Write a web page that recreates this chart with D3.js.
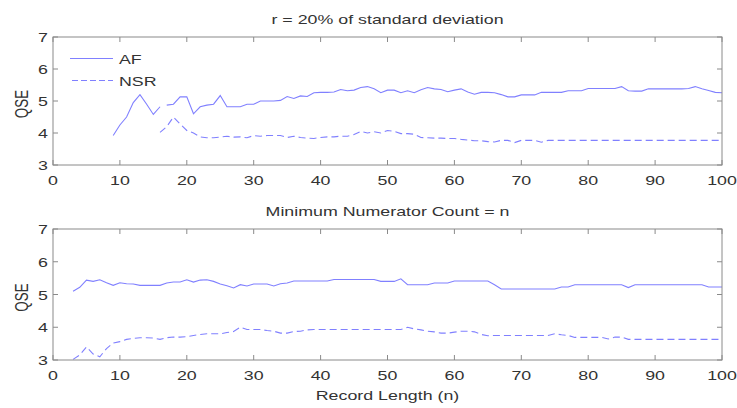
<!DOCTYPE html>
<html>
<head>
<meta charset="utf-8">
<script src="https://cdn.jsdelivr.net/npm/d3@7"></script>
<style>
  body { margin: 0; background: #fff; }
  svg text { font-family: "Liberation Sans", Arial, sans-serif; fill: #333; }
</style>
</head>
<body>
<div id="chart"></div>
<script>
// x ticks / y ticks
const xTicks = [0, 10, 20, 30, 40, 50, 60, 70, 80, 90, 100];
const yTicks = [3, 4, 5, 6, 7];

// top panel: r = 20% of SD
const topAfA = [3.92, 4.25, 4.5, 4.95, 5.2, 4.9, 4.58, 4.82]; // n = 9..16
const topAfB = [ // n = 17..100
  4.87, 4.9, 5.13, 5.13, 4.6, 4.82, 4.87, 4.9, 5.17, 4.82,
  4.82, 4.82, 4.9, 4.9, 5.0, 5.0, 5.0, 5.02, 5.14, 5.08,
  5.16, 5.14, 5.26, 5.27, 5.27, 5.28, 5.36, 5.32, 5.34, 5.42,
  5.45, 5.38, 5.26, 5.34, 5.34, 5.26, 5.32, 5.26, 5.35, 5.42,
  5.38, 5.36, 5.29, 5.34, 5.38, 5.28, 5.21, 5.27, 5.27, 5.26,
  5.2, 5.13, 5.13, 5.19, 5.19, 5.19, 5.27, 5.27, 5.27, 5.27,
  5.32, 5.32, 5.32, 5.39, 5.39, 5.39, 5.39, 5.39, 5.45, 5.32,
  5.31, 5.31, 5.38, 5.38, 5.38, 5.38, 5.38, 5.38, 5.39, 5.45,
  5.38, 5.33, 5.27, 5.26
];
const topNsr = [ // n = 16..100
  4.02, 4.2, 4.5, 4.28, 4.08, 4.0, 3.88, 3.85, 3.85, 3.87,
  3.9, 3.87, 3.88, 3.85, 3.92, 3.9, 3.92, 3.92, 3.92, 3.86,
  3.9, 3.86, 3.84, 3.83, 3.86, 3.88, 3.88, 3.9, 3.9, 3.95,
  4.05, 4.0, 4.04, 4.0, 4.08, 4.05, 3.98, 3.98, 3.96, 3.86,
  3.85, 3.84, 3.84, 3.83, 3.83, 3.8, 3.78, 3.76, 3.76, 3.73,
  3.72, 3.77, 3.77, 3.7, 3.77, 3.77, 3.77, 3.71, 3.77, 3.77,
  3.77, 3.77, 3.77, 3.77, 3.77, 3.77, 3.77, 3.77, 3.77, 3.77,
  3.77, 3.77, 3.77, 3.77, 3.77, 3.77, 3.77, 3.77, 3.77, 3.77,
  3.77, 3.77, 3.77, 3.77, 3.77
];

// bottom panel: minimum numerator count = n
const botAf = [ // n = 3..100
  5.1, 5.22, 5.44, 5.4, 5.45, 5.36, 5.28, 5.36, 5.33, 5.32,
  5.28, 5.28, 5.28, 5.28, 5.35, 5.38, 5.38, 5.45, 5.38, 5.44,
  5.45, 5.4, 5.32, 5.27, 5.2, 5.3, 5.26, 5.32, 5.32, 5.32,
  5.26, 5.33, 5.35, 5.41, 5.41, 5.41, 5.41, 5.41, 5.41, 5.46,
  5.46, 5.46, 5.46, 5.46, 5.46, 5.46, 5.4, 5.4, 5.4, 5.48,
  5.3, 5.3, 5.3, 5.3, 5.35, 5.35, 5.35, 5.41, 5.41, 5.41,
  5.41, 5.41, 5.41, 5.3, 5.17, 5.17, 5.17, 5.17, 5.17, 5.17,
  5.17, 5.17, 5.17, 5.23, 5.23, 5.3, 5.3, 5.3, 5.3, 5.3,
  5.3, 5.3, 5.3, 5.21, 5.3, 5.3, 5.3, 5.3, 5.3, 5.3,
  5.3, 5.3, 5.3, 5.3, 5.3, 5.23, 5.23, 5.23
];
const botNsr = [ // n = 3..100
  3.02, 3.15, 3.4, 3.18, 3.1, 3.35, 3.52, 3.56, 3.63, 3.66,
  3.68, 3.68, 3.67, 3.63, 3.68, 3.7, 3.7, 3.71, 3.75, 3.78,
  3.8, 3.8, 3.8, 3.84, 3.87, 4.0, 3.93, 3.93, 3.93, 3.9,
  3.88, 3.82, 3.82, 3.87, 3.88, 3.92, 3.93, 3.93, 3.93, 3.93,
  3.93, 3.93, 3.93, 3.93, 3.93, 3.93, 3.93, 3.93, 3.93, 3.93,
  4.0, 3.95, 3.92, 3.88, 3.86, 3.82, 3.82, 3.85, 3.88, 3.88,
  3.86, 3.78, 3.74, 3.75, 3.75, 3.75, 3.75, 3.75, 3.75, 3.75,
  3.75, 3.75, 3.8, 3.77, 3.75, 3.69, 3.69, 3.69, 3.69, 3.69,
  3.64, 3.7, 3.7, 3.63, 3.63, 3.63, 3.63, 3.63, 3.63, 3.63,
  3.63, 3.63, 3.63, 3.63, 3.63, 3.63, 3.63, 3.63
];

const legendNames = ["AF", "NSR"];

const W = 737, H = 408;
const left = 53, right = 722;
const lineColor = "#8080ff";
const fs = 13.4, sx = 1.33;   // picture is stretched sideways

const svg = d3.select("#chart").append("svg")
  .attr("width", W).attr("height", H);

function toPts(arr, n0) {
  return arr.map((v, i) => ({ n: n0 + i, v: v }));
}

// text helper: stretched like the picture
function label(parent, x, y, str, anchor, rot) {
  const g = parent.append("g")
    .attr("transform", `translate(${x},${y}) scale(${sx},1)` + (rot ? ` rotate(${rot})` : ""));
  g.append("text")
    .attr("text-anchor", anchor || "middle")
    .style("font-size", fs + "px")
    .text(str);
  return g;
}

const panels = [
  {
    title: "r = 20% of standard deviation", top: 37, bottom: 165, titleY: 24,
    series: [
      { pts: toPts(topAfA, 9), dash: null },
      { pts: toPts(topAfB, 17), dash: null },
      { pts: toPts(topNsr, 16), dash: "7,4" }
    ],
    legend: true
  },
  {
    title: "Minimum Numerator Count = n", top: 229, bottom: 360, titleY: 216,
    series: [
      { pts: toPts(botAf, 3), dash: null },
      { pts: toPts(botNsr, 3), dash: "7,4" }
    ],
    legend: false,
    xlabel: "Record Length (n)"
  }
];

const x = d3.scaleLinear().domain([0, 100]).range([left, right]);

panels.forEach(p => {
  const y = d3.scaleLinear().domain([3, 7]).range([p.bottom, p.top]);
  const g = svg.append("g");
  const tk = 5;

  // lines
  const line = d3.line().x(d => x(d.n)).y(d => y(d.v));
  p.series.forEach(s => {
    g.append("path")
      .datum(s.pts)
      .attr("d", line)
      .attr("fill", "none")
      .attr("stroke", lineColor)
      .attr("stroke-width", 1.1)
      .attr("stroke-dasharray", s.dash);
  });

  // box
  g.append("rect")
    .attr("x", left).attr("y", p.top)
    .attr("width", right - left).attr("height", p.bottom - p.top)
    .attr("fill", "none").attr("stroke", "#8a8a8a").attr("stroke-width", 1);

  // ticks inside, all four sides
  xTicks.forEach(t => {
    g.append("line").attr("x1", x(t)).attr("x2", x(t))
      .attr("y1", p.bottom).attr("y2", p.bottom - tk).attr("stroke", "#8a8a8a");
    g.append("line").attr("x1", x(t)).attr("x2", x(t))
      .attr("y1", p.top).attr("y2", p.top + tk).attr("stroke", "#8a8a8a");
    label(g, x(t), p.bottom + 20, String(t));
  });
  yTicks.forEach(t => {
    g.append("line").attr("x1", left).attr("x2", left + tk)
      .attr("y1", y(t)).attr("y2", y(t)).attr("stroke", "#8a8a8a");
    g.append("line").attr("x1", right).attr("x2", right - tk)
      .attr("y1", y(t)).attr("y2", y(t)).attr("stroke", "#8a8a8a");
    label(g, left - 5, y(t) + 5, String(t), "end");
  });

  // title + y label
  label(svg, (left + right) / 2, p.titleY, p.title);
  label(svg, 28, (p.top + p.bottom) / 2 + 3, "QSE", "middle", -90);
  if (p.xlabel) label(svg, (left + right) / 2, 400, p.xlabel);

  if (p.legend) {
    const lg = svg.append("g");
    legendNames.forEach((name, i) => {
      const ly = 58.5 + i * 22;
      lg.append("line")
        .attr("x1", 70 + i * 2).attr("x2", 113)
        .attr("y1", ly).attr("y2", ly)
        .attr("stroke", lineColor).attr("stroke-width", 1.1)
        .attr("stroke-dasharray", i ? "6,3" : null);
      label(lg, 119, ly + 5, name, "start");
    });
  }
});
</script>
</body>
</html>
